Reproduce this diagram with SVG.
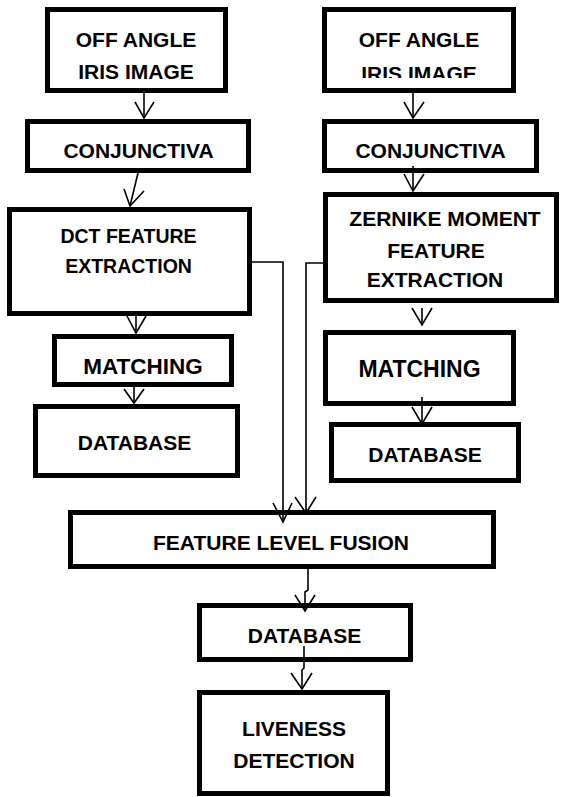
<svg xmlns="http://www.w3.org/2000/svg" width="561" height="797" viewBox="0 0 561 797">
  <style>
    .box { fill: #ffffff; stroke: #000000; stroke-width: 5; }
    .lbl { font-family: "Liberation Sans", Arial, sans-serif; font-weight: bold; font-size: 21px; fill: #000000; text-anchor: middle; }
    .wire { fill: none; stroke: #000000; stroke-width: 1.6; }
    .head { fill: none; stroke: #000000; stroke-width: 1.6; stroke-linejoin: miter; }
  </style>
  <defs>
    <!-- the right-hand source box cuts its second text line off at the bottom -->
    <clipPath id="clip-r1">
      <rect x="327" y="12" width="184" height="66"/>
    </clipPath>
  </defs>
  <rect width="561" height="797" fill="#ffffff"/>

  <!-- left branch -->
  <g id="src-left">
    <rect class="box" x="47.5" y="9.5" width="178" height="81"/>
    <text class="lbl" x="136" y="47">OFF ANGLE</text>
    <text class="lbl" x="136" y="79">IRIS IMAGE</text>
  </g>
  <g id="conj-left">
    <rect class="box" x="27.5" y="121.5" width="221" height="49"/>
    <text class="lbl" x="138.5" y="158">CONJUNCTIVA</text>
  </g>
  <g id="dct">
    <rect class="box" x="9.5" y="209.5" width="240" height="104"/>
    <text class="lbl" x="128.5" y="243" style="font-size:19.5px">DCT FEATURE</text>
    <text class="lbl" x="128.5" y="273" style="font-size:19.5px">EXTRACTION</text>
  </g>
  <g id="match-left">
    <rect class="box" x="54.5" y="336.5" width="177" height="48"/>
    <text class="lbl" x="143" y="374" style="font-size:22.5px">MATCHING</text>
  </g>
  <g id="db-left">
    <rect class="box" x="35.5" y="406.5" width="202" height="69"/>
    <text class="lbl" x="134.5" y="450">DATABASE</text>
  </g>

  <!-- right branch -->
  <g id="src-right">
    <rect class="box" x="324.5" y="9.5" width="189" height="81"/>
    <text class="lbl" x="419" y="47">OFF ANGLE</text>
    <text class="lbl" x="419" y="80.5" clip-path="url(#clip-r1)">IRIS IMAGE</text>
  </g>
  <g id="conj-right">
    <rect class="box" x="324.5" y="121.5" width="212" height="49"/>
    <text class="lbl" x="430.5" y="158">CONJUNCTIVA</text>
  </g>
  <g id="zernike">
    <rect class="box" x="325.5" y="194.5" width="231" height="106"/>
    <text class="lbl" x="445" y="226">ZERNIKE MOMENT</text>
    <text class="lbl" x="436" y="258">FEATURE</text>
    <text class="lbl" x="435" y="287">EXTRACTION</text>
  </g>
  <g id="match-right">
    <rect class="box" x="325.5" y="332.5" width="188" height="71"/>
    <text class="lbl" x="419.5" y="377" style="font-size:23px">MATCHING</text>
  </g>
  <g id="db-right">
    <rect class="box" x="331.5" y="424.5" width="187" height="56"/>
    <text class="lbl" x="425" y="462">DATABASE</text>
  </g>

  <!-- shared tail -->
  <g id="fusion">
    <rect class="box" x="70.5" y="512.5" width="423" height="54"/>
    <text class="lbl" x="281" y="550">FEATURE LEVEL FUSION</text>
  </g>
  <g id="db-fused">
    <rect class="box" x="199.5" y="605.5" width="211" height="54"/>
    <text class="lbl" x="304.5" y="643">DATABASE</text>
  </g>
  <g id="liveness">
    <rect class="box" x="199.5" y="692.5" width="188" height="101"/>
    <text class="lbl" x="294" y="736">LIVENESS</text>
    <text class="lbl" x="294" y="768">DETECTION</text>
  </g>

  <!-- connectors -->
  <g id="connectors">
    <!-- left column -->
    <line class="wire" x1="144" y1="93" x2="144" y2="118"/>
    <polyline class="head" points="135,102 144,118 154,102"/>
    <line class="wire" x1="138" y1="173" x2="130" y2="206"/>
    <polyline class="head" points="124,189 130,206 144,191"/>
    <line class="wire" x1="136" y1="316" x2="136" y2="333"/>
    <polyline class="head" points="127,316 136,333 146,316"/>
    <line class="wire" x1="134" y1="387" x2="134" y2="403"/>
    <polyline class="head" points="124,389 134,403 144,389"/>

    <!-- right column -->
    <line class="wire" x1="413" y1="93" x2="413" y2="118"/>
    <polyline class="head" points="404,102 413,118 424,102"/>
    <line class="wire" x1="413" y1="166" x2="413" y2="191"/>
    <polyline class="head" points="404,174 413,191 424,174"/>
    <line class="wire" x1="422" y1="308" x2="422" y2="325"/>
    <polyline class="head" points="412,308 422,325 432,308"/>
    <line class="wire" x1="422" y1="397" x2="422" y2="424"/>
    <polyline class="head" points="412,407 422,424 432,407"/>

    <!-- feature vectors into fusion -->
    <polyline class="wire" points="252,262 283,262 283,521"/>
    <polyline class="head" points="273,503 283,522 292,503"/>
    <polyline class="wire" points="323,263 306,263 306,513"/>
    <polyline class="head" points="295,497 306,513 316,497"/>

    <!-- fusion down to decision -->
    <polyline class="wire" points="308,569 308,590 305,592 305,611"/>
    <polyline class="head" points="295,595 305,611 315,595"/>
    <polyline class="wire" points="304,646 304,668 302,670 302,689"/>
    <polyline class="head" points="291,673 302,689 312,673"/>
  </g>
</svg>
